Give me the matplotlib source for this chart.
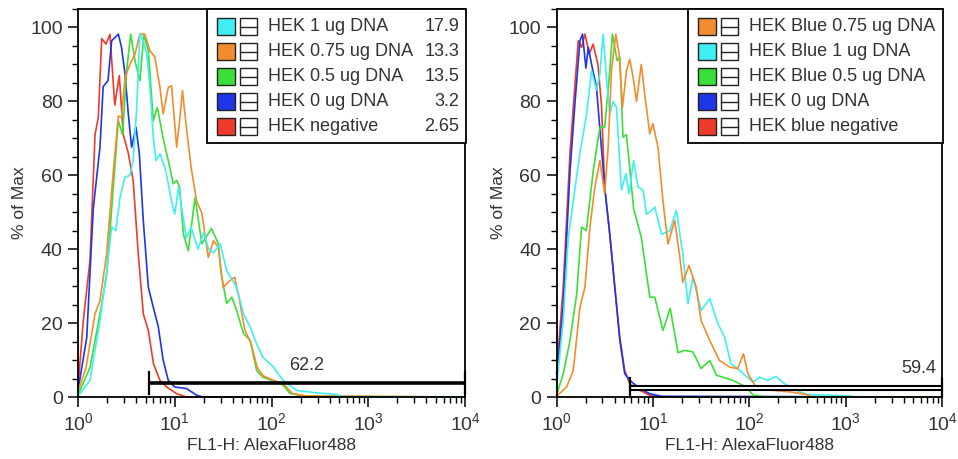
import numpy as np
import matplotlib
matplotlib.use("Agg")
import matplotlib.pyplot as plt
from matplotlib.patches import Rectangle
from matplotlib.ticker import LogLocator, MultipleLocator

plt.rcParams["font.family"] = ["Liberation Sans", "DejaVu Sans"]
plt.rcParams["mathtext.fontset"] = "custom"
plt.rcParams["mathtext.rm"] = "Liberation Sans"

TEXT = "#333333"
CYAN = "#3FEFF2"
ORANGE = "#F28C2E"
GREEN = "#3ADF3A"
BLUE = "#1F35E8"
RED = "#EE3B2B"

# ---------------- left panel: HEK (log10 of FL1-H, % of max) ----------------
hek1_logx = [0, 0.124, 0.227, 0.296, 0.348, 0.39, 0.434, 0.486, 0.537, 0.57, 0.606, 0.64, 0.675,
             0.71, 0.744, 0.778, 0.806, 0.847, 0.9, 0.933, 0.967, 1.0, 1.04, 1.07, 1.12, 1.17,
             1.24, 1.3, 1.35, 1.40, 1.47, 1.536, 1.64, 1.71, 1.78, 1.846, 1.91, 2.02, 2.12, 2.26,
             2.47, 2.67, 2.75, 4.0]
hek1_pct = [0.2, 4.5, 20.7, 34, 46, 45, 54, 59.5, 60, 64, 78, 98.2, 96.4,
            92.8, 83.8, 70.3, 64, 65.8, 62, 57.7, 53, 49.5, 56.8, 51.4, 43, 46,
            40, 44.5, 40, 39, 41.5, 34.2, 29.7, 22.5, 18.9, 14.4, 10.8, 8.1, 4.5, 1.8,
            1.1, 0.7, 0, 0]

hek075_logx = [0, 0.083, 0.176, 0.227, 0.296, 0.365, 0.417, 0.45, 0.486, 0.537, 0.589, 0.64, 0.69,
               0.744, 0.795, 0.847, 0.88, 0.933, 0.967, 1.02, 1.054, 1.08, 1.12, 1.17, 1.226,
               1.28, 1.31, 1.346, 1.40, 1.45, 1.50, 1.57, 1.62, 1.67, 1.725, 1.79, 1.85, 1.91,
               2.02, 2.12, 2.22, 2.36, 4.0]
hek075_pct = [1.4, 8, 22.5, 26, 38.7, 61, 76, 75.7, 86.5, 90, 92.8, 98.2, 98.2,
              93.7, 92, 83.8, 76.6, 83.8, 84.2, 67.6, 75.7, 82.9, 73, 62, 53,
              49.8, 44.4, 37.8, 42.3, 40.5, 29.7, 31.5, 32.4, 26, 18, 14.5, 8.1, 5.8,
              4.5, 3.6, 0.9, 0.3, 0]

hek05_logx = [0, 0.124, 0.227, 0.296, 0.365, 0.417, 0.46, 0.503, 0.544, 0.589, 0.64, 0.68, 0.727,
              0.778, 0.82, 0.88, 0.933, 0.985, 1.02, 1.05, 1.09, 1.14, 1.21, 1.28, 1.38, 1.45,
              1.48, 1.536, 1.59, 1.64, 1.71, 1.78, 1.846, 1.91, 2.05, 2.12, 2.19, 2.33, 4.0]
hek05_pct = [0.5, 8, 22.5, 33, 56.8, 74.8, 71, 88.3, 98.2, 91, 85.6, 98, 93.7,
             74.8, 78.4, 70, 64, 57.7, 58.6, 56.8, 44, 39.6, 54, 41.5, 45.6, 41.5,
             33.4, 25.3, 27, 23.4, 17.2, 15.3, 7.2, 5.4, 4, 3.2, 1, 0.2, 0]

hek0_logx = [0, 0.09, 0.158, 0.227, 0.26, 0.31, 0.348, 0.417, 0.45, 0.486, 0.52, 0.554, 0.6,
             0.634, 0.675, 0.727, 0.778, 0.83, 0.88, 0.933, 1.0, 1.12, 1.226, 1.29, 4.0]
hek0_pct = [1.8, 16, 51, 67.6, 84, 85.6, 96.4, 98.2, 94.6, 87.4, 76.6, 67.6, 73,
            65.8, 47.7, 29.7, 24.3, 19, 10, 4.5, 2.7, 2.3, 0.5, 0, 0]

hekneg_logx = [0, 0.055, 0.124, 0.176, 0.21, 0.245, 0.29, 0.33, 0.38, 0.427, 0.468, 0.52, 0.57,
               0.623, 0.675, 0.727, 0.78, 0.847, 0.916, 1.02, 1.12, 4.0]
hekneg_pct = [2.7, 20.7, 37, 71, 75.7, 97, 95.5, 98.2, 79, 87, 71, 66, 58.6,
              38.7, 22.5, 18, 9, 4.5, 2.7, 0.9, 0, 0]

left_labels = ["HEK 1 ug DNA", "HEK 0.75 ug DNA", "HEK 0.5 ug DNA", "HEK 0 ug DNA", "HEK negative"]
left_stats = ["17.9", "13.3", "13.5", "3.2", "2.65"]
left_gate = [5.45, 1e4]
left_gate_stat = "62.2"

# ---------------- right panel: HEK Blue ----------------
blue075_logx = [0, 0.105, 0.174, 0.243, 0.295, 0.347, 0.398, 0.45, 0.5, 0.536, 0.57, 0.615, 0.65,
                0.684, 0.726, 0.76, 0.795, 0.83, 0.88, 0.915, 0.968, 1.0, 1.053, 1.105, 1.157,
                1.227, 1.28, 1.31, 1.375, 1.45, 1.50, 1.59, 1.69, 1.796, 1.88, 1.94, 1.986,
                2.07, 2.24, 2.42, 2.59, 2.65, 4.0]
blue075_pct = [0.2, 2.7, 7.2, 24.3, 29.7, 46, 56.8, 64, 55, 67.6, 88.3, 98.2, 92.8,
               78.4, 88.3, 91.4, 86.5, 80, 90, 82, 71.2, 74, 67.6, 53, 41.4,
               47.8, 37.8, 31, 35.6, 29.7, 20.7, 15.3, 9.9, 8.1, 7.7, 11.7, 6.3,
               2.7, 1.8, 1.4, 0.7, 0, 0]

blue1_logx = [0, 0.07, 0.122, 0.174, 0.243, 0.312, 0.364, 0.415, 0.45, 0.484, 0.52, 0.553, 0.588,
              0.622, 0.674, 0.72, 0.753, 0.80, 0.846, 0.898, 0.933, 0.968, 1.02, 1.09, 1.175,
              1.244, 1.31, 1.364, 1.416, 1.50, 1.59, 1.675, 1.744, 1.81, 1.90, 2.04, 2.107,
              2.19, 2.28, 2.365, 2.49, 2.59, 2.8, 3.04, 3.1, 4.0]
blue1_pct = [2.7, 20.7, 43, 53, 66, 76.6, 88.3, 83, 87.4, 98.2, 85.6, 76.6, 80,
             78.4, 56, 60.4, 55, 64, 56.8, 56, 49.5, 50, 51.4, 44, 45,
             50.5, 38.8, 25.2, 32.4, 23.4, 26.6, 19.8, 16.2, 9, 7.2, 4, 5.4,
             4.5, 5.6, 3.6, 1.8, 0.7, 0.5, 0.3, 0, 0]

blue05_logx = [0, 0.07, 0.14, 0.21, 0.26, 0.31, 0.38, 0.45, 0.5, 0.553, 0.58, 0.605, 0.63, 0.657,
               0.69, 0.725, 0.76, 0.80, 0.88, 0.968, 1.02, 1.105, 1.18, 1.26, 1.33, 1.416, 1.50,
               1.59, 1.66, 1.83, 1.97, 2.04, 2.2, 4.0]
blue05_pct = [0.5, 6.3, 15.3, 28, 46, 45, 61, 73, 73, 88.3, 98.2, 94.6, 91, 92,
              70.3, 71, 62, 51, 43.2, 27, 27, 18, 24, 12, 12.6, 12.2, 7.7,
              9.9, 5.9, 4.5, 2.7, 0.5, 0, 0]

blue0_logx = [0, 0.07, 0.14, 0.19, 0.243, 0.27, 0.305, 0.33, 0.364, 0.415, 0.457, 0.5, 0.553,
              0.605, 0.657, 0.708, 0.76, 0.864, 0.967, 1.09, 4.0]
blue0_pct = [4.5, 25, 61, 79, 96.4, 98.2, 89, 94.6, 90, 83.8, 70.3, 56.8, 44,
             29.7, 15.3, 6.3, 4.5, 2.3, 0.9, 0.2, 0]

blueneg_logx = [0, 0.07, 0.14, 0.19, 0.226, 0.26, 0.295, 0.34, 0.38, 0.43, 0.467, 0.5, 0.553,
                0.605, 0.657, 0.708, 0.76, 0.864, 0.967, 1.1, 4.0]
blueneg_pct = [6.3, 30, 66, 84, 96.4, 94.6, 98.2, 92.8, 95.5, 90, 79, 56.8, 44,
               29.7, 16.2, 7.2, 3.6, 1.8, 0.5, 0, 0]

right_labels = ["HEK Blue 0.75 ug DNA", "HEK Blue 1 ug DNA", "HEK Blue 0.5 ug DNA",
                "HEK 0 ug DNA", "HEK blue negative"]
right_gate = [5.77, 1e4]
right_gate_stat = "59.4"

W, H = 958, 459
fig = plt.figure(figsize=(W / 100, H / 100), dpi=100)


def fx(px):
    return px / W


def fy(py):
    return 1 - py / H


def make_axes(x0, x1, y_top, y_bot):
    ax = fig.add_axes([fx(x0), fy(y_bot), fx(x1) - fx(x0), fy(y_top) - fy(y_bot)])
    ax.set_xscale("log")
    ax.set_xlim(1, 1e4)
    ax.set_ylim(0, 105)
    ax.yaxis.set_major_locator(MultipleLocator(20))
    ax.yaxis.set_minor_locator(MultipleLocator(5))
    ax.xaxis.set_major_locator(LogLocator(base=10, numticks=10))
    ax.xaxis.set_minor_locator(LogLocator(base=10, subs=np.arange(2, 10), numticks=10))
    for s in ax.spines.values():
        s.set_linewidth(1.3)
        s.set_color("black")
    ax.tick_params(which="major", direction="out", length=7, width=1.1,
                   labelsize=14, colors="black", labelcolor=TEXT, pad=4)
    ax.tick_params(which="minor", direction="out", length=4, width=1.0, colors="black")
    ax.set_xlabel("FL1-H: AlexaFluor488", fontsize=12.5, color=TEXT, labelpad=3)
    ax.set_ylabel("% of Max", fontsize=12.5, color=TEXT, labelpad=2)
    return ax


def draw_legend(box, rows, labels, stats=None, stat_px=None):
    x0, y0, x1, y1 = box
    fig.add_artist(Rectangle((fx(x0), fy(y1)), fx(x1) - fx(x0), fy(y0) - fy(y1),
                             transform=fig.transFigure, facecolor="white",
                             edgecolor="black", lw=1.3, zorder=5))
    for i, (color, label) in enumerate(zip(rows, labels)):
        cy = y0 + 17.5 + 25 * i
        sq = 17.5
        sx = x0 + 10
        fig.add_artist(Rectangle((fx(sx), fy(cy + sq / 2)), fx(sq), fy(0) - fy(sq),
                                 transform=fig.transFigure, facecolor=color,
                                 edgecolor="#222222", lw=1.0, zorder=6))
        ix = sx + 22.5
        fig.add_artist(Rectangle((fx(ix), fy(cy + sq / 2)), fx(sq), fy(0) - fy(sq),
                                 transform=fig.transFigure, facecolor="white",
                                 edgecolor="#222222", lw=1.0, zorder=6))
        fig.add_artist(plt.Line2D([fx(ix), fx(ix + sq)], [fy(cy), fy(cy)],
                                  transform=fig.transFigure, color="#222222", lw=1.0, zorder=7))
        fig.text(fx(ix + 28.5), fy(cy), label, fontsize=13, color=TEXT,
                 va="center", ha="left", zorder=7)
        if stats is not None:
            fig.text(fx(stat_px), fy(cy), stats[i], fontsize=13, color=TEXT,
                     va="center", ha="right", zorder=7)


def plot_series(ax, series):
    for logx, pct, color in series:
        ax.plot(10 ** np.asarray(logx), pct, color=color, lw=1.2, clip_on=False,
                solid_joinstyle="round")


# left panel
axL = make_axes(78, 465, 9, 397)
plot_series(axL, [
    (hekneg_logx, hekneg_pct, RED),
    (hek0_logx, hek0_pct, BLUE),
    (hek05_logx, hek05_pct, GREEN),
    (hek075_logx, hek075_pct, ORANGE),
    (hek1_logx, hek1_pct, CYAN),
])
axL.plot(left_gate, [3.8, 3.8], color="black", lw=2.6, zorder=4, solid_capstyle="butt")
for gx in left_gate:
    axL.plot([gx, gx], [0.9, 6.8], color="black", lw=1.6, zorder=4, clip_on=False)
axL.text(np.sqrt(left_gate[0] * left_gate[1]), 6.3, left_gate_stat, fontsize=13,
         color=TEXT, ha="center", va="bottom")
draw_legend((207, 9, 466, 143), [CYAN, ORANGE, GREEN, BLUE, RED], left_labels,
            stats=left_stats, stat_px=459)

# right panel
axR = make_axes(556.5, 942, 9, 397)
plot_series(axR, [
    (blueneg_logx, blueneg_pct, RED),
    (blue0_logx, blue0_pct, BLUE),
    (blue05_logx, blue05_pct, GREEN),
    (blue1_logx, blue1_pct, CYAN),
    (blue075_logx, blue075_pct, ORANGE),
])
axR.add_patch(Rectangle((right_gate[0], 2.0), right_gate[1] - right_gate[0], 0.9,
                        facecolor="white", edgecolor="black", lw=1.5, zorder=4, clip_on=False))
for gx, top in zip(right_gate, [5.2, 4.8]):
    axR.plot([gx, gx], [0, top], color="black", lw=1.6, zorder=4, clip_on=False)
axR.text(10 ** 3.94, 5.4, right_gate_stat, fontsize=13, color=TEXT, ha="right", va="bottom")
draw_legend((688, 9, 943, 143), [ORANGE, CYAN, GREEN, BLUE, RED], right_labels)

fig.savefig("out.png", dpi=100, facecolor="white")
